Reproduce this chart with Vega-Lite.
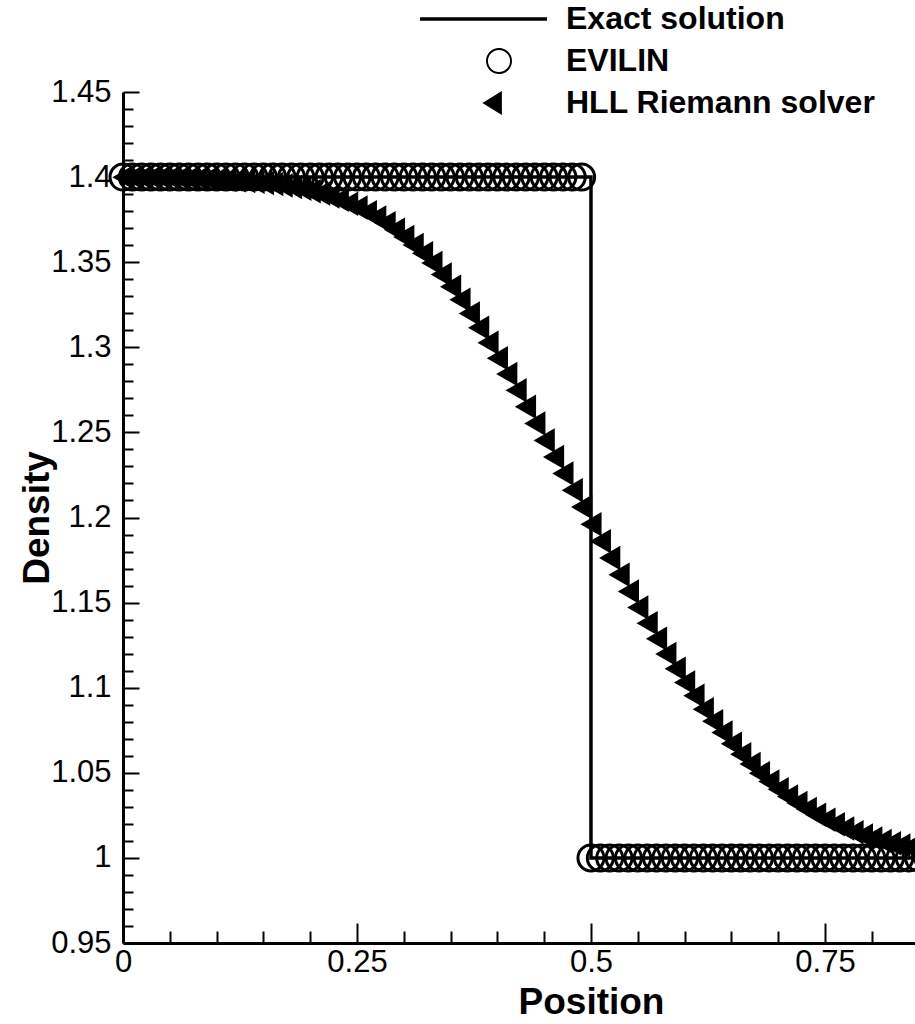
{
  "$schema": "https://vega.github.io/schema/vega-lite/v6.json",
  "autosize": {"type": "none"},
  "padding": {"left": 123, "top": 92, "right": 0, "bottom": 81},
  "width": 792,
  "height": 851,
  "config": {"view": {"stroke": null}, "font": "Liberation Sans", "background": "white"},
  "datasets": {
    "exact": [
      {"x": 0, "y": 1.4}, {"x": 0.5, "y": 1.4}, {"x": 0.5, "y": 1.0}, {"x": 1.0, "y": 1.0}
    ],
    "evilin": [
      {"x": 0, "y": 1.4}, {"x": 0.01, "y": 1.4}, {"x": 0.02, "y": 1.4}, {"x": 0.03, "y": 1.4}, {"x": 0.04, "y": 1.4},
      {"x": 0.05, "y": 1.4}, {"x": 0.06, "y": 1.4}, {"x": 0.07, "y": 1.4}, {"x": 0.08, "y": 1.4}, {"x": 0.09, "y": 1.4},
      {"x": 0.1, "y": 1.4}, {"x": 0.11, "y": 1.4}, {"x": 0.12, "y": 1.4}, {"x": 0.13, "y": 1.4}, {"x": 0.14, "y": 1.4},
      {"x": 0.15, "y": 1.4}, {"x": 0.16, "y": 1.4}, {"x": 0.17, "y": 1.4}, {"x": 0.18, "y": 1.4}, {"x": 0.19, "y": 1.4},
      {"x": 0.2, "y": 1.4}, {"x": 0.21, "y": 1.4}, {"x": 0.22, "y": 1.4}, {"x": 0.23, "y": 1.4}, {"x": 0.24, "y": 1.4},
      {"x": 0.25, "y": 1.4}, {"x": 0.26, "y": 1.4}, {"x": 0.27, "y": 1.4}, {"x": 0.28, "y": 1.4}, {"x": 0.29, "y": 1.4},
      {"x": 0.3, "y": 1.4}, {"x": 0.31, "y": 1.4}, {"x": 0.32, "y": 1.4}, {"x": 0.33, "y": 1.4}, {"x": 0.34, "y": 1.4},
      {"x": 0.35, "y": 1.4}, {"x": 0.36, "y": 1.4}, {"x": 0.37, "y": 1.4}, {"x": 0.38, "y": 1.4}, {"x": 0.39, "y": 1.4},
      {"x": 0.4, "y": 1.4}, {"x": 0.41, "y": 1.4}, {"x": 0.42, "y": 1.4}, {"x": 0.43, "y": 1.4}, {"x": 0.44, "y": 1.4},
      {"x": 0.45, "y": 1.4}, {"x": 0.46, "y": 1.4}, {"x": 0.47, "y": 1.4}, {"x": 0.48, "y": 1.4}, {"x": 0.49, "y": 1.4},
      {"x": 0.5, "y": 1.0}, {"x": 0.51, "y": 1.0}, {"x": 0.52, "y": 1.0}, {"x": 0.53, "y": 1.0}, {"x": 0.54, "y": 1.0},
      {"x": 0.55, "y": 1.0}, {"x": 0.56, "y": 1.0}, {"x": 0.57, "y": 1.0}, {"x": 0.58, "y": 1.0}, {"x": 0.59, "y": 1.0},
      {"x": 0.6, "y": 1.0}, {"x": 0.61, "y": 1.0}, {"x": 0.62, "y": 1.0}, {"x": 0.63, "y": 1.0}, {"x": 0.64, "y": 1.0},
      {"x": 0.65, "y": 1.0}, {"x": 0.66, "y": 1.0}, {"x": 0.67, "y": 1.0}, {"x": 0.68, "y": 1.0}, {"x": 0.69, "y": 1.0},
      {"x": 0.7, "y": 1.0}, {"x": 0.71, "y": 1.0}, {"x": 0.72, "y": 1.0}, {"x": 0.73, "y": 1.0}, {"x": 0.74, "y": 1.0},
      {"x": 0.75, "y": 1.0}, {"x": 0.76, "y": 1.0}, {"x": 0.77, "y": 1.0}, {"x": 0.78, "y": 1.0}, {"x": 0.79, "y": 1.0},
      {"x": 0.8, "y": 1.0}, {"x": 0.81, "y": 1.0}, {"x": 0.82, "y": 1.0}, {"x": 0.83, "y": 1.0}, {"x": 0.84, "y": 1.0},
      {"x": 0.85, "y": 1.0}, {"x": 0.86, "y": 1.0}, {"x": 0.87, "y": 1.0}
    ],
    "hll": [
      {"x": 0, "y": 1.3999}, {"x": 0.01, "y": 1.3998}, {"x": 0.02, "y": 1.3998}, {"x": 0.03, "y": 1.3997}, {"x": 0.04, "y": 1.3997},
      {"x": 0.05, "y": 1.3996}, {"x": 0.06, "y": 1.3995}, {"x": 0.07, "y": 1.3993}, {"x": 0.08, "y": 1.3992}, {"x": 0.09, "y": 1.399},
      {"x": 0.1, "y": 1.3987}, {"x": 0.11, "y": 1.3984}, {"x": 0.12, "y": 1.3981}, {"x": 0.13, "y": 1.3977}, {"x": 0.14, "y": 1.3972},
      {"x": 0.15, "y": 1.3966}, {"x": 0.16, "y": 1.3959}, {"x": 0.17, "y": 1.3951}, {"x": 0.18, "y": 1.3942}, {"x": 0.19, "y": 1.3932},
      {"x": 0.2, "y": 1.3917}, {"x": 0.21, "y": 1.3903}, {"x": 0.22, "y": 1.3886}, {"x": 0.23, "y": 1.3867}, {"x": 0.24, "y": 1.3844},
      {"x": 0.25, "y": 1.3821}, {"x": 0.26, "y": 1.3793}, {"x": 0.27, "y": 1.3762}, {"x": 0.28, "y": 1.3729}, {"x": 0.29, "y": 1.369},
      {"x": 0.3, "y": 1.3648}, {"x": 0.31, "y": 1.3601}, {"x": 0.32, "y": 1.3552}, {"x": 0.33, "y": 1.3496}, {"x": 0.34, "y": 1.3428},
      {"x": 0.35, "y": 1.3356}, {"x": 0.36, "y": 1.3279}, {"x": 0.37, "y": 1.3199}, {"x": 0.38, "y": 1.3115}, {"x": 0.39, "y": 1.3027},
      {"x": 0.4, "y": 1.2936}, {"x": 0.41, "y": 1.2843}, {"x": 0.42, "y": 1.2747}, {"x": 0.43, "y": 1.265}, {"x": 0.44, "y": 1.2552},
      {"x": 0.45, "y": 1.2453}, {"x": 0.46, "y": 1.2356}, {"x": 0.47, "y": 1.2258}, {"x": 0.48, "y": 1.216}, {"x": 0.49, "y": 1.2061},
      {"x": 0.5, "y": 1.196}, {"x": 0.51, "y": 1.1861}, {"x": 0.52, "y": 1.1762}, {"x": 0.53, "y": 1.1664}, {"x": 0.54, "y": 1.1565},
      {"x": 0.55, "y": 1.1471}, {"x": 0.56, "y": 1.1378}, {"x": 0.57, "y": 1.1288}, {"x": 0.58, "y": 1.1198}, {"x": 0.59, "y": 1.1112},
      {"x": 0.6, "y": 1.1031}, {"x": 0.61, "y": 1.0952}, {"x": 0.62, "y": 1.0874}, {"x": 0.63, "y": 1.0803}, {"x": 0.64, "y": 1.0737},
      {"x": 0.65, "y": 1.0671}, {"x": 0.66, "y": 1.0609}, {"x": 0.67, "y": 1.0552}, {"x": 0.68, "y": 1.0498}, {"x": 0.69, "y": 1.0449},
      {"x": 0.7, "y": 1.0403}, {"x": 0.71, "y": 1.0361}, {"x": 0.72, "y": 1.0322}, {"x": 0.73, "y": 1.0288}, {"x": 0.74, "y": 1.0253},
      {"x": 0.75, "y": 1.0224}, {"x": 0.76, "y": 1.0198}, {"x": 0.77, "y": 1.0173}, {"x": 0.78, "y": 1.0151}, {"x": 0.79, "y": 1.0131},
      {"x": 0.8, "y": 1.0114}, {"x": 0.81, "y": 1.0099}, {"x": 0.82, "y": 1.0086}, {"x": 0.83, "y": 1.0073}, {"x": 0.84, "y": 1.0062},
      {"x": 0.85, "y": 1.0054}, {"x": 0.86, "y": 1.0048}, {"x": 0.87, "y": 1.0038}
    ]
  },
  "encoding": {
    "x": {
      "field": "x", "type": "quantitative",
      "scale": {"domain": [0, 0.8462], "nice": false, "zero": false},
      "axis": {
        "title": "Position",
        "values": [0, 0.05, 0.1, 0.15, 0.2, 0.25, 0.3, 0.35, 0.4, 0.45, 0.5, 0.55, 0.6, 0.65, 0.7, 0.75, 0.8],
        "labelExpr": "indexof([0, 0.25, 0.5, 0.75], datum.value) >= 0 ? datum.label : ''",
        "format": "~g",
        "labelOverlap": false, "labelFlush": false,
        "tickSize": {"condition": {"test": "indexof([0, 0.25, 0.5, 0.75], datum.value) >= 0", "value": -20}, "value": -12},
        "tickColor": "black", "tickWidth": 2,
        "domainColor": "black", "domainWidth": 3,
        "grid": false,
        "labelFont": "Liberation Sans", "labelFontSize": 31, "labelColor": "black", "labelPadding": 24,
        "titleFont": "Liberation Sans", "titleFontSize": 37, "titleFontWeight": "bold", "titleColor": "black",
        "titleX": 468, "titleY": 70, "titleBaseline": "alphabetic", "titleAlign": "center", "titleAnchor": null
      }
    },
    "y": {
      "field": "y", "type": "quantitative",
      "scale": {"domain": [0.95, 1.45], "nice": false, "zero": false},
      "axis": {
        "title": "Density",
        "values": [0.95, 0.96, 0.97, 0.98, 0.99, 1, 1.01, 1.02, 1.03, 1.04, 1.05, 1.06, 1.07, 1.08, 1.09, 1.1, 1.11, 1.12, 1.13, 1.14, 1.15, 1.16, 1.17, 1.18, 1.19, 1.2, 1.21, 1.22, 1.23, 1.24, 1.25, 1.26, 1.27, 1.28, 1.29, 1.3, 1.31, 1.32, 1.33, 1.34, 1.35, 1.36, 1.37, 1.38, 1.39, 1.4, 1.41, 1.42, 1.43, 1.44, 1.45],
        "labelExpr": "indexof([0.95, 1, 1.05, 1.1, 1.15, 1.2, 1.25, 1.3, 1.35, 1.4, 1.45], datum.value) >= 0 ? datum.label : ''",
        "format": "~g",
        "labelOverlap": false, "labelFlush": false,
        "tickSize": {"condition": {"test": "indexof([0.95, 1, 1.05, 1.1, 1.15, 1.2, 1.25, 1.3, 1.35, 1.4, 1.45], datum.value) >= 0", "value": -16}, "value": -10},
        "tickColor": "black", "tickWidth": 2,
        "domainColor": "black", "domainWidth": 3,
        "grid": false,
        "labelFont": "Liberation Sans", "labelFontSize": 31, "labelColor": "black", "labelPadding": 28,
        "titleFont": "Liberation Sans", "titleFontSize": 37, "titleFontWeight": "bold", "titleColor": "black",
        "titleX": -75, "titleY": 425.5, "titleAngle": -90, "titleBaseline": "alphabetic", "titleAlign": "center", "titleAnchor": null
      }
    }
  },
  "layer": [
    {
      "data": {"name": "exact"},
      "mark": {"type": "line", "strokeWidth": 3.5, "color": "black"},
      "encoding": {
        "order": {"value": null},
        "color": {
          "datum": "Exact solution",
          "scale": {"domain": ["Exact solution", "EVILIN", "HLL Riemann solver"], "range": ["black", "black", "black"]},
          "legend": {
            "title": null,
            "orient": "none",
            "legendX": 360,
            "legendY": -89,
            "padding": 0,
            "labelFont": "Liberation Sans",
            "labelFontSize": 32,
            "labelFontWeight": "bold",
            "labelColor": "black",
            "labelLimit": 600,
            "labelOffset": 51,
            "rowPadding": 10,
            "symbolSize": 676,
            "symbolStrokeWidth": 2,
            "encode": {
              "symbols": {
                "update": {
                  "shape": {"signal": "datum.value === 'Exact solution' ? 'M-6.08,0H3.69' : (datum.value === 'EVILIN' ? 'M1,0A1,1,0,1,1,-1,0A1,1,0,1,1,1,0ZM0.85,0A0.85,0.85,0,1,0,-0.85,0A0.85,0.85,0,1,0,0.85,0Z' : 'M-1.28,0L0.22,-0.92L0.22,0.92Z')"},
                  "size": {"value": 676},
                  "fill": {"value": "black"},
                  "stroke": {"value": "black"},
                  "strokeWidth": {"signal": "datum.value === 'Exact solution' ? 3.5 : 0"},
                  "opacity": {"value": 1}
                }
              }
            }
          }
        }
      }
    },
    {
      "data": {"name": "evilin"},
      "mark": {"type": "point", "shape": "circle", "filled": false, "size": 676, "strokeWidth": 3, "opacity": 1},
      "encoding": {
        "color": {"datum": "EVILIN"}
      }
    },
    {
      "data": {"name": "hll"},
      "mark": {"type": "point", "shape": "triangle-left", "filled": true, "size": 600, "opacity": 1, "strokeWidth": 0},
      "encoding": {
        "color": {"datum": "HLL Riemann solver"}
      }
    }
  ]
}
